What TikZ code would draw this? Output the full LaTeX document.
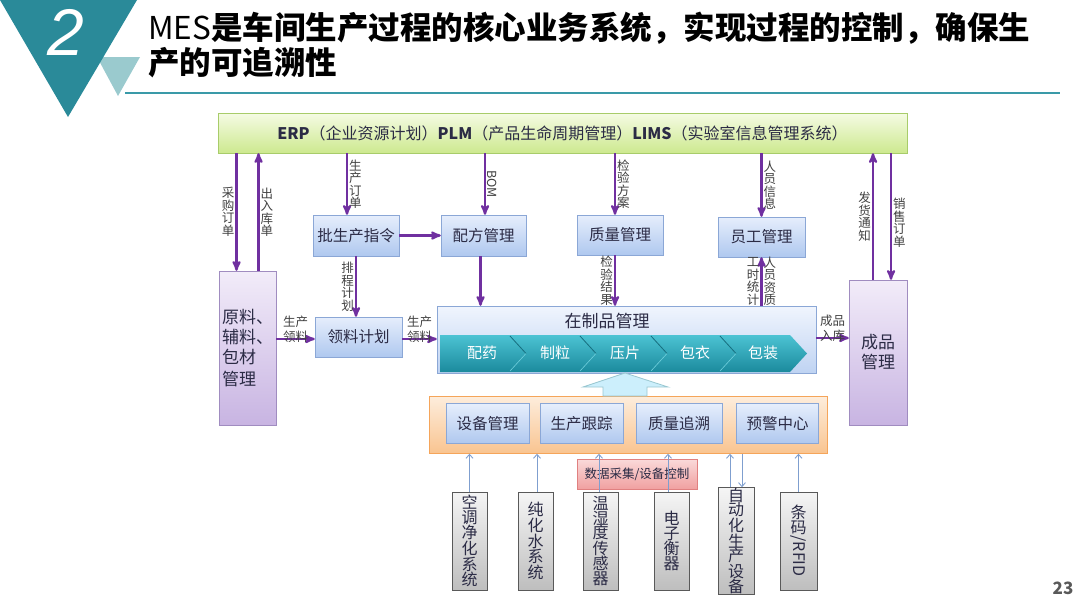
\documentclass[tikz,border=0pt]{standalone}
\usepackage{fontspec}
\setmainfont{Noto Sans CJK SC}
\newfontfamily\numfont{Liberation Sans}
\usetikzlibrary{positioning, arrows, arrows.meta}
\definecolor{tealdark}{HTML}{2A8A99}
\definecolor{teallight}{HTML}{9ACACE}
\definecolor{rulec}{HTML}{3A9AA8}
\definecolor{flowc}{HTML}{7030A0}
\definecolor{boxtext}{HTML}{2B2B45}
\definecolor{blueline}{HTML}{8BA7D6}
\definecolor{bluetop}{HTML}{E6EEFC}
\definecolor{bluebot}{HTML}{AFC8EF}
\definecolor{lavline}{HTML}{A08CC0}
\definecolor{lavtop}{HTML}{F2ECF9}
\definecolor{lavbot}{HTML}{C8B4E2}
\definecolor{greenline}{HTML}{A8CC6A}
\definecolor{greentop}{HTML}{F5FBE4}
\definecolor{greenbot}{HTML}{CDE98F}
\definecolor{orline}{HTML}{F5A55A}
\definecolor{ortop}{HTML}{FDEDDC}
\definecolor{orbot}{HTML}{F9C490}
\definecolor{pinkline}{HTML}{E08080}
\definecolor{pinktop}{HTML}{FADADA}
\definecolor{pinkbot}{HTML}{F0A0A0}
\definecolor{grayline}{HTML}{595959}
\definecolor{graytop}{HTML}{F5F5F5}
\definecolor{graybot}{HTML}{BEBEBE}
\definecolor{chevtop}{HTML}{4CC3D3}
\definecolor{chevbot}{HTML}{1B8A9D}
\definecolor{thinc}{HTML}{7F9FCF}
\tikzset{
>=stealth', % arrow heads of the purple flows
box/.style={draw=blueline, top color=bluetop, bottom color=bluebot, text=boxtext, inner sep=0pt, font=\fontsize{15.5}{17}\selectfont}, % blue module boxes
store/.style={draw=lavline, top color=lavtop, bottom color=lavbot, text=boxtext, inner sep=0pt}, % lavender side boxes
device/.style={draw=grayline, line width=1pt, top color=graytop, bottom color=graybot, text=boxtext, inner sep=0pt, align=center, minimum height=98pt, font=\fontsize{16}{14.5}\selectfont}, % gray devices
flow/.style={->, draw=flowc, line width=2.2pt}, % purple arrows
thin/.style={-{Straight Barb[length=4pt,width=7pt]}, draw=thinc, line width=0.9pt}, % blue signal arrows
vlab/.style={align=center, inner sep=1pt, text=black!75, font=\fontsize{12.5}{12.5}\selectfont}, % stacked labels
hlab/.style={align=center, inner sep=0pt, text=black!75, font=\fontsize{12.5}{15}\selectfont}, % labels over arrows
}
\begin{document}
\begin{tikzpicture}[x=1pt, y=-1pt]
\useasboundingbox (0,0) rectangle (1080,605);
% header
\fill[teallight] (97,57) -- (140,57) -- (118,96) -- cycle;
\fill[tealdark] (0,0) -- (137,0) -- (68,117) -- cycle;
\node[font=\numfont\itshape\fontsize{66}{66}\selectfont, text=white] (num) at (66,32) {2};
\node[anchor=west, align=left, inner sep=0pt, font=\fontsize{31.5}{35}\selectfont] (title) at (148,45.5)
  {MES\textbf{是车间生产过程的核心业务系统，实现过程的控制，确保生}\\\textbf{产的可追溯性}};
\draw[rulec, line width=1.2pt] (125,93) -- (1060,93);
\node[font=\bfseries\fontsize{17}{17}\selectfont, text=black!65] (page) at (1063,588) {23};

% top systems
\node[draw=greenline, top color=greentop, bottom color=greenbot, text=boxtext, minimum width=689pt, minimum height=40pt,
  font=\fontsize{16}{18}\selectfont] (erp) at (562.5,133)
  {\textbf{ERP}（企业资源计划）\textbf{PLM}（产品生命周期管理）\textbf{LIMS}（实验室信息管理系统）};

% side stores
\node[store, minimum width=57pt, minimum height=154pt, align=left, font=\fontsize{17}{20}\selectfont] (raw) at (247.5,348)
  {原料、\\辅料、\\包材\\[2pt]管理};
\node[store, minimum width=58pt, minimum height=145pt, align=center, font=\fontsize{17}{20}\selectfont] (goods) at (878,352.5)
  {成品\\管理};

% modules
\node[box, minimum width=86pt, minimum height=41pt] (batch) at (356,235.5) {批生产指令};
\node[box, minimum width=85pt, minimum height=41pt] (recipe) at (483.5,235.5) {配方管理};
\node[box, minimum width=86pt, minimum height=40pt] (quality) at (620,235) {质量管理};
\node[box, minimum width=87pt, minimum height=40pt] (staff) at (761.5,237) {员工管理};
\node[box, minimum width=87pt, minimum height=40pt] (pick) at (358.5,337) {领料计划};

% work in process
\node[draw=blueline, top color=bluetop!60, bottom color=bluebot!80, minimum width=379pt, minimum height=67pt] (wip) at (626.5,339.5) {};
\node[text=boxtext, font=\fontsize{17}{17}\selectfont] (wiptitle) at (607,321) {在制品管理};
\shade[top color=chevtop, bottom color=chevbot] (440,335) -- (790,335) -- (807,353.5) -- (790,372) -- (440,372) -- cycle;
\foreach \x in {510,580,651,720}{
  \draw[chevbot!80!black, line width=0.8pt] (\x,336) -- (\x+16,353.5);
  \draw[chevtop!80!white, line width=0.6pt] (\x+16,353.5) -- (\x,371);
}
\foreach \name/\x/\txt in {s1/482/配药, s2/555/制粒, s3/625/压片, s4/695/包衣, s5/763/包装}
  \node[text=white, font=\fontsize{15}{15}\selectfont] (\name) at (\x,353) {\txt};

% MES base
\node[draw=orline, top color=ortop, bottom color=orbot, minimum width=398pt, minimum height=57pt] (base) at (628,425) {};
\node[box, minimum width=83pt, minimum height=40pt] (eq) at (487.5,423.5) {设备管理};
\node[box, minimum width=83pt, minimum height=40pt] (track) at (581.5,423.5) {生产跟踪};
\node[box, minimum width=86pt, minimum height=40pt] (trace) at (679,423.5) {质量追溯};
\node[box, minimum width=82pt, minimum height=40pt] (alarm) at (777.5,423.5) {预警中心};
\draw[draw=blue!10!teal!40, fill=cyan!20, line width=0.8pt] (603,396) -- (603,387) -- (583,387) -- (625,373)
  -- (668,387) -- (647,387) -- (647,396) -- cycle;

% data collection
\node[draw=pinkline, top color=pinktop, bottom color=pinkbot, minimum width=120pt, minimum height=30pt,
  text=boxtext, font=\fontsize{12.5}{13}\selectfont] (daq) at (637,474) {数据采集/设备控制};

% devices
\node[device, minimum width=35pt] (d1) at (469.5,541) {空\\调\\净\\化\\系\\统};
\node[device, minimum width=35pt] (d2) at (535.5,541) {纯\\化\\水\\系\\统};
\node[device, minimum width=35pt] (d3) at (600.5,541) {温\\湿\\度\\传\\感\\器};
\node[device, minimum width=35pt] (d4) at (671.5,541) {电\\子\\衡\\器};
\node[device, minimum width=36pt] (d5) at (736,541) {自\\动\\化\\生\\产\\设\\备};
\node[device, minimum width=37pt] (d6) at (798.5,541) {条\\码\\\rotatebox[origin=c]{-90}{/RFID}};

% signals from devices
\draw[thin] (d1.north) -- (d1.north |- base.south);
\draw[thin] ([xshift=1.5pt]d2.north) -- ([xshift=1.5pt]d2.north |- base.south);
\draw[thin] ([xshift=-1.5pt]d3.north) -- ([xshift=-1.5pt]d3.north |- base.south);
\draw[thin] ([xshift=-3.5pt]d4.north) -- ([xshift=-3.5pt]d4.north |- base.south);
\draw[thin] ([xshift=-6pt]d5.north) -- ([xshift=-6pt]d5.north |- base.south);
\draw[thin] ([xshift=6pt]d5.north |- base.south) -- ([xshift=6pt]d5.north);
\draw[thin] (d6.north) -- (d6.north |- base.south);

% flows with erp
\draw[flow] ([xshift=-11pt]raw.north |- erp.south) -- ([xshift=-11pt]raw.north) node[vlab, midway, left=0pt] {采\\购\\订\\单};
\draw[flow] ([xshift=11pt]raw.north) -- ([xshift=11pt]raw.north |- erp.south) node[vlab, midway, right=0pt] {出\\入\\库\\单};
\draw[flow] ([xshift=-9pt]batch.north |- erp.south) -- ([xshift=-9pt]batch.north) node[vlab, midway, right=0pt] {生\\产\\订\\单};
\draw[flow] ([xshift=1.5pt]recipe.north |- erp.south) -- ([xshift=1.5pt]recipe.north) node[vlab, midway, right=0pt] {\rotatebox[origin=c]{-90}{BOM}};
\draw[flow] ([xshift=-5pt]quality.north |- erp.south) -- ([xshift=-5pt]quality.north) node[vlab, midway, right=0pt] {检\\验\\方\\案};
\draw[flow] (staff.north |- erp.south) -- (staff.north) node[vlab, midway, right=0pt] {人\\员\\信\\息};
\draw[flow] ([xshift=-5pt]goods.north) -- ([xshift=-5pt]goods.north |- erp.south) node[vlab, midway, left=0pt] {发\\货\\通\\知};
\draw[flow] ([xshift=13pt]goods.north |- erp.south) -- ([xshift=13pt]goods.north) node[vlab, pos=0.55, right=0pt] {销\\售\\订\\单};

% flows between modules
\draw[flow] (batch.east) -- (recipe.west);
\draw[flow] (batch.south) -- (batch.south |- pick.north) node[vlab, midway, left=0pt] {排\\程\\计\\划};
\draw[flow] ([xshift=-3pt]recipe.south) -- ([xshift=-3pt]recipe.south |- wip.north);
\draw[flow] ([xshift=-5pt]quality.south) -- ([xshift=-5pt]quality.south |- wip.north) node[vlab, midway, left=0pt] {检\\验\\结\\果};
\draw[flow] (staff.south |- wip.north) -- (staff.south)
  node[vlab, midway, left=0pt] {工\\时\\统\\计} node[vlab, midway, right=0pt] {人\\员\\资\\质};
\draw[flow] ([yshift=-2pt]raw.east |- pick.west) -- ([yshift=-2pt]pick.west) node[hlab, midway, above=-5pt] {生产\\领料};
\draw[flow] ([yshift=-2pt]pick.east) -- ([yshift=-2pt]pick.east -| wip.west) node[hlab, midway, above=-5pt] {生产\\领料};
\draw[flow] ([yshift=1.5pt]wip.east) -- ([yshift=1.5pt]wip.east -| goods.west) node[hlab, midway, above=-5pt] {成品\\入库};
\end{tikzpicture}
\end{document}
